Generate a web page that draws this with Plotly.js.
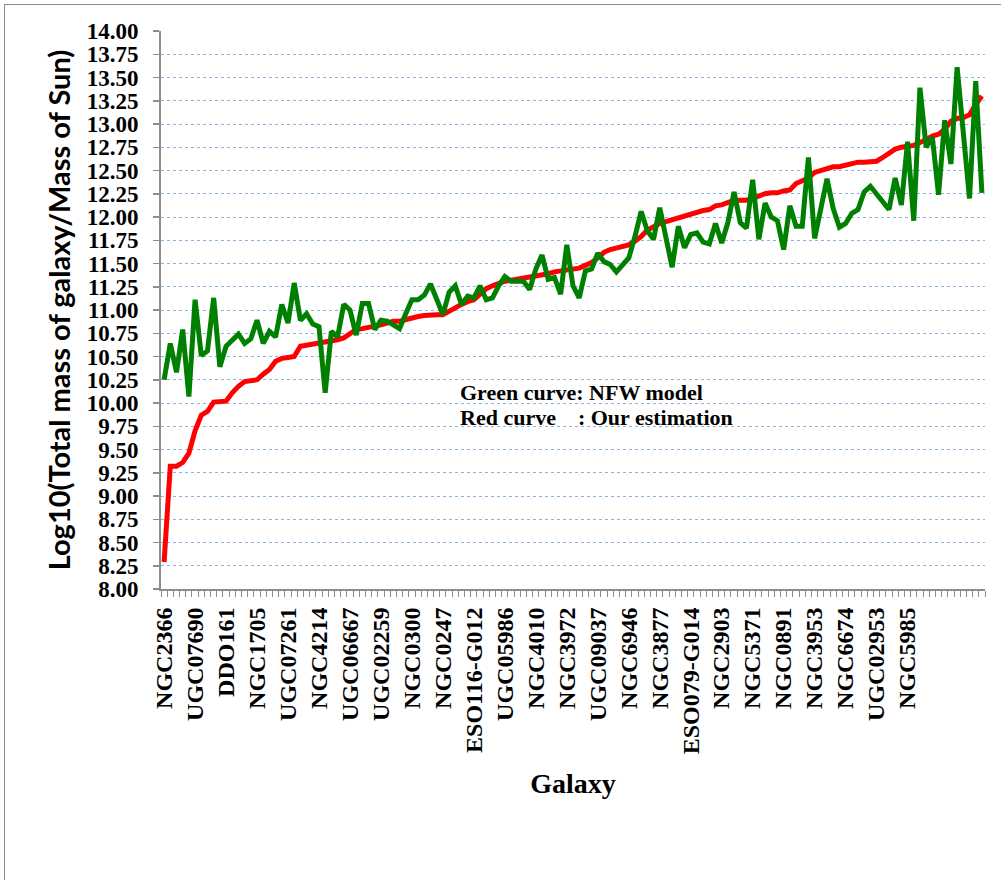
<!DOCTYPE html>
<html>
<head>
<meta charset="utf-8">
<script src="https://cdn.plot.ly/plotly-3.0.1.min.js"></script>
<style>
  html, body { margin: 0; padding: 0; background: #fff; }
  #frame { position: absolute; left: 4px; top: 4px; width: 996px; height: 900px; border: 1px solid #8c8c8c; }
</style>
</head>
<body>
<div id="frame"></div>
<script>
// Tick labels shown every 5th galaxy
const labelIndex = [0,5,10,15,20,25,30,35,40,45,50,55,60,65,70,75,80,85,90,95,100,105,110,115,120];
const labelNames = ["NGC2366","UGC07690","DDO161","NGC1705","UGC07261","NGC4214","UGC06667","UGC02259",
  "NGC0300","NGC0247","ESO116-G012","UGC05986","NGC4010","NGC3972","UGC09037","NGC6946","NGC3877",
  "ESO079-G014","NGC2903","NGC5371","NGC0891","NGC3953","NGC6674","UGC02953","NGC5985"];

// Red curve: our estimation
const ourEstimation = [
  8.29,9.32,9.32,9.36,9.46,9.70,9.87,9.91,10.01,10.01,
  10.02,10.11,10.18,10.23,10.24,10.25,10.31,10.36,10.45,10.48,
  10.49,10.50,10.61,10.62,10.63,10.65,10.66,10.67,10.68,10.70,
  10.74,10.79,10.80,10.81,10.82,10.84,10.86,10.88,10.88,10.90,
  10.91,10.93,10.94,10.95,10.95,10.95,10.99,11.03,11.06,11.09,
  11.11,11.17,11.23,11.26,11.29,11.31,11.32,11.33,11.34,11.35,
  11.36,11.37,11.39,11.41,11.42,11.43,11.44,11.45,11.48,11.51,
  11.56,11.62,11.65,11.67,11.68,11.70,11.74,11.79,11.86,11.90,
  11.93,11.95,11.97,12.00,12.01,12.03,12.06,12.07,12.08,12.12,
  12.13,12.16,12.18,12.18,12.18,12.20,12.23,12.25,12.26,12.26,
  12.28,12.29,12.36,12.39,12.42,12.48,12.50,12.53,12.54,12.54,
  12.56,12.57,12.59,12.59,12.59,12.60,12.64,12.69,12.73,12.75,
  12.76,12.77,12.80,12.84,12.87,12.89,12.94,13.03,13.06,13.07,
  13.10,13.21,13.30];

// Green curve: NFW model
const nfwModel = [
  10.25,10.64,10.33,10.79,10.07,11.11,10.51,10.56,11.13,10.39,
  10.61,10.67,10.74,10.64,10.69,10.89,10.64,10.77,10.71,11.06,
  10.86,11.29,10.89,10.96,10.85,10.82,10.11,10.77,10.71,11.06,
  11.00,10.73,11.07,11.07,10.79,10.89,10.88,10.84,10.80,10.96,
  11.11,11.11,11.16,11.28,11.10,10.95,11.19,11.26,11.06,11.15,
  11.13,11.26,11.11,11.13,11.26,11.36,11.31,11.31,11.31,11.22,
  11.44,11.59,11.33,11.35,11.17,11.70,11.26,11.13,11.42,11.44,
  11.61,11.52,11.49,11.41,11.49,11.56,11.79,12.06,11.85,11.76,
  12.10,11.78,11.46,11.90,11.67,11.81,11.83,11.73,11.71,11.93,
  11.72,11.94,12.27,11.94,11.88,12.40,11.76,12.15,12.00,11.96,
  11.65,12.12,11.90,11.90,12.64,11.77,12.08,12.41,12.09,11.89,
  11.93,12.04,12.08,12.27,12.33,12.24,12.16,12.08,12.42,12.13,
  12.81,11.96,13.39,12.75,12.86,12.24,13.04,12.57,13.61,12.87,
  12.20,13.46,12.26];

const idx = ourEstimation.map((_, i) => i);

const serif = "Liberation Serif, 'Times New Roman', serif";
const axisGrey = '#8c8c8c';

const traces = [
  { x: idx, y: ourEstimation, type: 'scatter', mode: 'lines', name: 'Our estimation',
    line: { color: '#ff0000', width: 5 } },
  { x: idx, y: nfwModel, type: 'scatter', mode: 'lines', name: 'NFW model',
    line: { color: '#008000', width: 5 } }
];

const layout = {
  width: 996, height: 900,
  margin: { l: 156, r: 16, t: 26, b: 316 },
  paper_bgcolor: '#fff', plot_bgcolor: '#fff',
  showlegend: false,
  xaxis: {
    range: [-0.5, ourEstimation.length - 0.5],
    tickmode: 'array', tickvals: labelIndex, ticktext: labelNames,
    tickangle: -90, ticks: '', ticklabelstandoff: 7,
    tickfont: { family: serif, size: 24, color: '#000', weight: 'bold' },
    minor: { tickmode: 'linear', tick0: -0.5, dtick: 1, ticks: 'outside', ticklen: 6, tickwidth: 1, tickcolor: axisGrey, showgrid: false },
    showgrid: false, zeroline: false,
    showline: true, linecolor: axisGrey, linewidth: 2,
    title: { text: 'Galaxy', font: { family: serif, size: 28, color: '#000', weight: 'bold' }, standoff: 20 }
  },
  yaxis: {
    range: [8, 14], dtick: 0.25, tick0: 8, tickformat: '.2f',
    ticks: 'outside', ticklen: 6, tickwidth: 1.5, tickcolor: axisGrey, ticklabelstandoff: 10,
    tickfont: { family: serif, size: 23, color: '#000', weight: 'bold' },
    showgrid: true, gridcolor: '#8EB4E3', gridwidth: 1, griddash: 'dot',
    zeroline: false, showline: true, linecolor: axisGrey, linewidth: 2,
    title: { text: 'Log10(Total mass of galaxy/Mass of Sun)', font: { family: 'Lato, sans-serif', size: 29, color: '#000', weight: 'bold' }, standoff: 8 }
  },
  annotations: [
    { xref: 'paper', yref: 'paper', x: 0.3604, y: 0.353, xanchor: 'left', yanchor: 'middle', showarrow: false,
      text: 'Green curve: NFW model', font: { family: serif, size: 22, color: '#000', weight: 'bold' } },
    { xref: 'paper', yref: 'paper', x: 0.3604, y: 0.3065, xanchor: 'left', yanchor: 'middle', showarrow: false,
      text: 'Red curve\u00a0\u00a0\u00a0\u00a0: Our estimation', font: { family: serif, size: 22, color: '#000', weight: 'bold' } }
  ]
};

Plotly.newPlot('frame', traces, layout, { displayModeBar: false, staticPlot: true });
</script>
</body>
</html>
